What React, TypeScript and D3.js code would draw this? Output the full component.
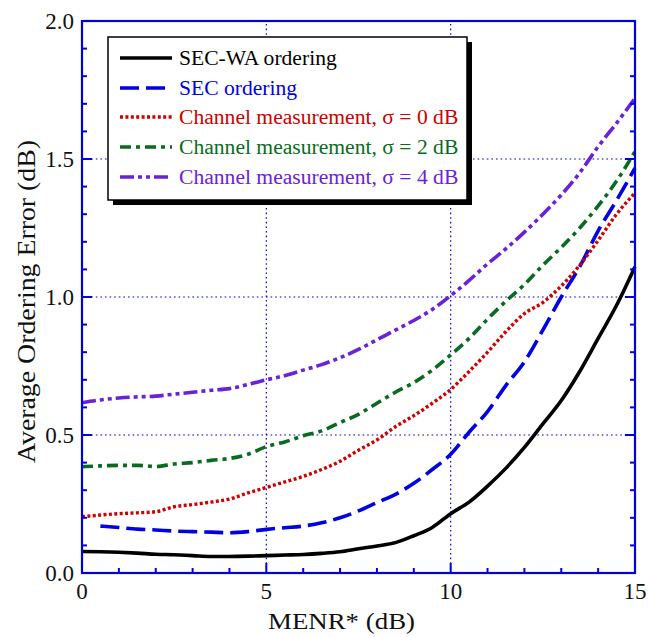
import React from "react";
import * as d3 from "d3";

// MENR* sample points (dB)
const menr: number[] = d3.range(0, 15.01, 0.5).map((v) => +v.toFixed(1));

// Average ordering error (dB) for each method
const secWa: number[] = [
  0.078, 0.077, 0.075, 0.072, 0.068, 0.066, 0.063, 0.06, 0.06, 0.061, 0.063,
  0.065, 0.067, 0.071, 0.077, 0.088, 0.098, 0.11, 0.135, 0.165, 0.215, 0.257,
  0.315, 0.38, 0.455, 0.54, 0.625, 0.73, 0.85, 0.97, 1.11,
];
const sec: number[] = [
  0.172, 0.17, 0.165, 0.159, 0.156, 0.152, 0.15, 0.148, 0.146, 0.15, 0.158,
  0.164, 0.17, 0.182, 0.2, 0.225, 0.255, 0.285, 0.325, 0.375, 0.43, 0.51,
  0.585, 0.68, 0.765, 0.88, 1.0, 1.11, 1.24, 1.35, 1.467,
];
const chan0: number[] = [
  0.204, 0.21, 0.215, 0.218, 0.222, 0.24, 0.248, 0.257, 0.268, 0.29, 0.31,
  0.33, 0.35, 0.375, 0.405, 0.445, 0.482, 0.53, 0.57, 0.615, 0.665, 0.73, 0.8,
  0.875, 0.94, 0.98, 1.04, 1.115, 1.205, 1.3, 1.377,
];
const chan2: number[] = [
  0.385, 0.388, 0.39, 0.39, 0.386, 0.395, 0.4, 0.408, 0.415, 0.43, 0.458,
  0.475, 0.497, 0.515, 0.545, 0.575, 0.615, 0.655, 0.69, 0.735, 0.79, 0.85,
  0.92, 0.985, 1.045, 1.115, 1.18, 1.25, 1.33, 1.42, 1.527,
];
const chan4: number[] = [
  0.617, 0.627, 0.634, 0.638, 0.641, 0.648, 0.655, 0.662, 0.668, 0.683, 0.7,
  0.715, 0.735, 0.755, 0.78, 0.81, 0.845, 0.88, 0.915, 0.955, 1.005, 1.06,
  1.12, 1.175, 1.235, 1.3, 1.37, 1.45, 1.545, 1.63, 1.72,
];

const seriesNames: string[] = [
  "SEC-WA ordering",
  "SEC ordering",
  "Channel measurement, σ = 0 dB",
  "Channel measurement, σ = 2 dB",
  "Channel measurement, σ = 4 dB",
];

const xTickLabels: number[] = [0, 5, 10, 15];
const yTickLabels: number[] = [0, 0.5, 1.0, 1.5, 2.0];

const W = 648;
const H = 637;
const M = { left: 82, right: 13, top: 21, bottom: 64 };
const AXIS = "#0000d8";
const FONT = "'Liberation Serif', 'Times New Roman', serif";

const styles = [
  { color: "#000000", dash: "none", width: 3.6, start: 0 },
  { color: "#0000e0", dash: "19 7", width: 3.6, start: 0.25 },
  { color: "#cc0000", dash: "3 2.4", width: 3.4, start: 0 },
  { color: "#0b6a22", dash: "11 5 4 5", width: 3.6, start: 0 },
  { color: "#6a22d8", dash: "14 4 4 4 4 4", width: 3.6, start: 0 },
];

export default function App() {
  const x = d3.scaleLinear().domain([0, 15]).range([M.left, W - M.right]);
  const y = d3.scaleLinear().domain([0, 2]).range([H - M.bottom, M.top]);
  const x0 = x(0), x1 = x(15), y0 = y(0), y1 = y(2);

  const allSeries = [secWa, sec, chan0, chan2, chan4];
  const line = d3
    .line<[number, number]>()
    .x((d) => x(d[0]))
    .y((d) => y(d[1]))
    .curve(d3.curveMonotoneX);

  const paths = allSeries.map((vals, i) => {
    const pts: [number, number][] = menr.map((m, k) => [m, vals[k]]);
    const s = styles[i].start;
    const filtered = s > 0 ? pts.filter((p) => p[0] >= s) : pts;
    return line(filtered) || "";
  });

  const minorX = d3.range(1, 15).filter((v) => v % 5 !== 0);
  const majorX = [5, 10];
  const minorY = d3.range(1, 20).map((v) => v / 10).filter((v) => Math.round(v * 10) % 5 !== 0);
  const majorY = [0.5, 1.0, 1.5];

  const lg = { x: 108, y: 37, w: 359, h: 163 };
  const rowY = [58, 88, 117, 147, 177];

  return (
    <svg
      width={W}
      height={H}
      style={{ position: "absolute", left: 0, top: 0, background: "#fff" }}
      fontFamily={FONT}
    >
      {/* grid */}
      <g stroke={AXIS} strokeWidth={1.2} strokeDasharray="1.6 3" fill="none">
        {majorX.map((v) => (
          <line key={"gx" + v} x1={x(v)} x2={x(v)} y1={y0} y2={y1} />
        ))}
        {majorY.map((v) => (
          <line key={"gy" + v} x1={x0} x2={x1} y1={y(v)} y2={y(v)} />
        ))}
      </g>

      {/* curves */}
      {paths.map((p, i) => (
        <path
          key={i}
          d={p}
          fill="none"
          stroke={styles[i].color}
          strokeWidth={styles[i].width}
          strokeDasharray={styles[i].dash}
          strokeLinejoin="round"
        />
      ))}

      {/* ticks */}
      <g stroke={AXIS} strokeWidth={2}>
        {minorX.map((v) => (
          <line key={"tx" + v} x1={x(v)} x2={x(v)} y1={y0} y2={y0 - 5} />
        ))}
        {majorX.map((v) => (
          <line key={"Tx" + v} x1={x(v)} x2={x(v)} y1={y0} y2={y0 - 10} />
        ))}
        {minorY.map((v) => (
          <g key={"ty" + v}>
            <line x1={x0} x2={x0 + 5} y1={y(v)} y2={y(v)} />
            <line x1={x1} x2={x1 - 5} y1={y(v)} y2={y(v)} />
          </g>
        ))}
        {majorY.map((v) => (
          <g key={"Ty" + v}>
            <line x1={x0} x2={x0 + 10} y1={y(v)} y2={y(v)} />
            <line x1={x1} x2={x1 - 10} y1={y(v)} y2={y(v)} />
          </g>
        ))}
      </g>

      {/* frame */}
      <rect
        x={x0}
        y={y1}
        width={x1 - x0}
        height={y0 - y1}
        fill="none"
        stroke={AXIS}
        strokeWidth={2.2}
      />

      {/* tick labels */}
      <g fontSize={23} fill="#111">
        {xTickLabels.map((v) => (
          <text key={"lx" + v} x={x(v)} y={y0 + 26} textAnchor="middle">
            {v}
          </text>
        ))}
        {yTickLabels.map((v) => (
          <text key={"ly" + v} x={x0 - 8} y={y(v) + 8} textAnchor="end">
            {v.toFixed(1)}
          </text>
        ))}
      </g>

      {/* axis titles */}
      <text
        x={268}
        y={629}
        fontSize={24}
        textLength={147}
        lengthAdjust="spacingAndGlyphs"
        fill="#111"
      >
        MENR* (dB)
      </text>
      <text
        transform={`translate(35, ${463}) rotate(-90)`}
        fontSize={26}
        textLength={323}
        lengthAdjust="spacingAndGlyphs"
        fill="#111"
      >
        Average Ordering Error (dB)
      </text>

      {/* legend */}
      <rect x={lg.x + 5} y={lg.y + 5} width={lg.w} height={lg.h} fill="#000" />
      <rect x={lg.x} y={lg.y} width={lg.w} height={lg.h} fill="#fff" stroke="#000" strokeWidth={1.5} />
      {seriesNames.map((name, i) => (
        <g key={"lg" + i}>
          <line
            x1={120}
            x2={172}
            y1={rowY[i]}
            y2={rowY[i]}
            stroke={styles[i].color}
            strokeWidth={styles[i].width}
            strokeDasharray={styles[i].dash}
          />
          <text x={179} y={rowY[i] + 7} fontSize={21.6} fill={styles[i].color}>
            {name}
          </text>
        </g>
      ))}
    </svg>
  );
}
